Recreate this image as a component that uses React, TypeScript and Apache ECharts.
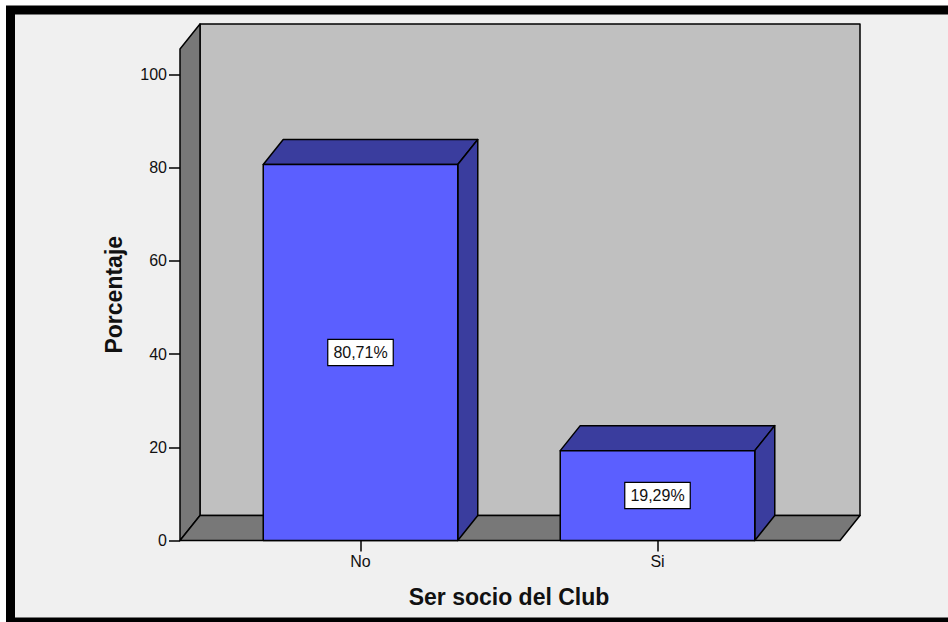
import { useEffect, useRef } from 'react';
import * as echarts from 'echarts';

// Ser socio del Club — percentage of respondents
const categories = ['No', 'Si'];
const percentages = [80.71, 19.29];
const yTickValues = [0, 20, 40, 60, 80, 100];
const yAxisMax = 105.5;

const FONT = '"Liberation Sans", Arial, sans-serif';
const BAR_FRONT = '#5b5fff';
const BAR_SHADE = '#3a3d9e';
const BACK_WALL = '#c0c0c0';
const SIDE_WALL = '#787878';
const EDGE = '#000000';

// 3D extrusion of the box and bars
const DEPTH_X = 20;
const DEPTH_Y = 25;
// the floor extends a little past the category band on each side
const PAD_LEFT = 32;
const PAD_RIGHT = 34;
const BAR_RATIO = 0.655;

const fmtPct = (v: number) => v.toFixed(2).replace('.', ',') + '%';

export default function App() {
  const ref = useRef<HTMLDivElement>(null);

  useEffect(() => {
    const chart = echarts.init(ref.current!, null, { renderer: 'svg' });

    const edgeStyle = { stroke: EDGE, lineWidth: 1.5, lineJoin: 'round' as const };

    chart.setOption({
      animation: false,
      backgroundColor: '#ffffff',
      graphic: [
        {
          type: 'rect',
          z: -10,
          silent: true,
          shape: { x: 10.5, y: 10, width: 960, height: 612 },
          style: { fill: '#f0f0f0', stroke: '#000000', lineWidth: 9 },
        },
      ],
      grid: { left: 212, right: 142, top: 49, bottom: 81.5, containLabel: false },
      xAxis: {
        type: 'category',
        data: categories,
        axisLine: { show: false },
        axisTick: { show: true, alignWithLabel: true, length: 11, lineStyle: { color: '#000', width: 1.5 } },
        axisLabel: { margin: 13, fontSize: 16, color: '#111', fontFamily: FONT },
        splitLine: { show: false },
        name: 'Ser socio del Club',
        nameLocation: 'middle',
        nameGap: 45,
        nameTextStyle: { fontSize: 23, fontWeight: 'bold', color: '#111', fontFamily: FONT },
      },
      yAxis: {
        type: 'value',
        min: 0,
        max: yAxisMax,
        offset: PAD_LEFT,
        axisLine: { show: false },
        axisTick: { show: true, length: 11, customValues: yTickValues, lineStyle: { color: '#000', width: 1.5 } },
        axisLabel: { margin: 13, fontSize: 16, color: '#111', fontFamily: FONT, customValues: yTickValues },
        splitLine: { show: false },
        name: 'Porcentaje',
        nameLocation: 'middle',
        nameGap: 55,
        nameTextStyle: { fontSize: 23, fontWeight: 'bold', color: '#111', fontFamily: FONT },
      },
      series: [
        {
          // back wall, side wall and floor of the 3D box
          type: 'custom',
          z: 1,
          silent: true,
          clip: false,
          data: [[0, 0]],
          renderItem: (params: any) => {
            const cs = params.coordSys;
            const left = cs.x - PAD_LEFT;
            const right = cs.x + cs.width + PAD_RIGHT;
            const top = cs.y;
            const bottom = cs.y + cs.height;
            return {
              type: 'group',
              children: [
                {
                  type: 'rect',
                  shape: { x: left + DEPTH_X, y: top - DEPTH_Y, width: right - left, height: bottom - top },
                  style: { fill: BACK_WALL, ...edgeStyle },
                },
                {
                  type: 'polygon',
                  shape: {
                    points: [
                      [left, top],
                      [left + DEPTH_X, top - DEPTH_Y],
                      [left + DEPTH_X, bottom - DEPTH_Y],
                      [left, bottom],
                    ],
                  },
                  style: { fill: SIDE_WALL, ...edgeStyle },
                },
                {
                  type: 'polygon',
                  shape: {
                    points: [
                      [left, bottom],
                      [left + DEPTH_X, bottom - DEPTH_Y],
                      [right + DEPTH_X, bottom - DEPTH_Y],
                      [right, bottom],
                    ],
                  },
                  style: { fill: SIDE_WALL, ...edgeStyle },
                },
              ],
            };
          },
        },
        {
          // 3D bars with a boxed percentage label on the front face
          type: 'custom',
          z: 3,
          clip: false,
          data: percentages.map((v, i) => [i, v]),
          renderItem: (_params: any, api: any) => {
            const idx = api.value(0);
            const val = api.value(1);
            const [cx, yTop] = api.coord([idx, val]);
            const [, yBase] = api.coord([idx, 0]);
            const bw = api.size([1, 0])[0] * BAR_RATIO;
            const x0 = cx - bw / 2;
            const x1 = cx + bw / 2;
            return {
              type: 'group',
              children: [
                {
                  type: 'polygon',
                  shape: {
                    points: [
                      [x0, yTop],
                      [x0 + DEPTH_X, yTop - DEPTH_Y],
                      [x1 + DEPTH_X, yTop - DEPTH_Y],
                      [x1, yTop],
                    ],
                  },
                  style: { fill: BAR_SHADE, ...edgeStyle },
                },
                {
                  type: 'polygon',
                  shape: {
                    points: [
                      [x1, yTop],
                      [x1 + DEPTH_X, yTop - DEPTH_Y],
                      [x1 + DEPTH_X, yBase - DEPTH_Y],
                      [x1, yBase],
                    ],
                  },
                  style: { fill: BAR_SHADE, ...edgeStyle },
                },
                {
                  type: 'rect',
                  shape: { x: x0, y: yTop, width: bw, height: yBase - yTop },
                  style: { fill: BAR_FRONT, ...edgeStyle },
                },
                {
                  type: 'text',
                  x: cx,
                  y: (yTop + yBase) / 2,
                  style: {
                    text: fmtPct(val),
                    font: `16px ${FONT}`,
                    fill: '#111',
                    align: 'center',
                    verticalAlign: 'middle',
                    backgroundColor: '#ffffff',
                    borderColor: '#000000',
                    borderWidth: 1.2,
                    padding: [5, 5, 4, 5],
                  },
                },
              ],
            };
          },
        },
      ],
    });

    return () => chart.dispose();
  }, []);

  return (
    <div
      ref={ref}
      style={{ position: 'absolute', left: 0, top: 0, width: 948, height: 622 }}
    />
  );
}
